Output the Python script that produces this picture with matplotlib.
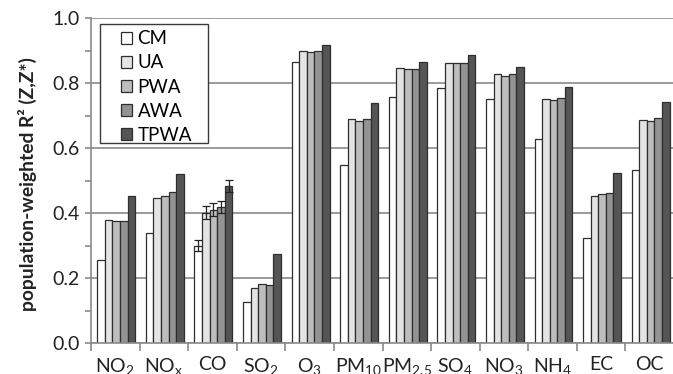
import matplotlib
matplotlib.use("Agg")
import matplotlib.pyplot as plt
from matplotlib.patches import Rectangle
import numpy as np

plt.rcParams['font.family'] = ['Lato', 'DejaVu Sans']
plt.rcParams['mathtext.default'] = 'regular'

categories = ['NO$_2$', 'NO$_x$', 'CO', 'SO$_2$', 'O$_3$', 'PM$_{10}$', 'PM$_{2.5}$',
              'SO$_4$', 'NO$_3$', 'NH$_4$', 'EC', 'OC']
series_names = ['CM', 'UA', 'PWA', 'AWA', 'TPWA']
cm   = [0.256, 0.338, 0.300, 0.127, 0.866, 0.550, 0.757, 0.785, 0.752, 0.628, 0.323, 0.533]
ua   = [0.379, 0.447, 0.402, 0.170, 0.899, 0.691, 0.847, 0.864, 0.828, 0.753, 0.452, 0.688]
pwa  = [0.376, 0.453, 0.411, 0.181, 0.897, 0.684, 0.845, 0.863, 0.823, 0.749, 0.458, 0.683]
awa  = [0.377, 0.467, 0.420, 0.178, 0.899, 0.689, 0.844, 0.864, 0.828, 0.756, 0.461, 0.693]
tpwa = [0.452, 0.522, 0.484, 0.274, 0.919, 0.740, 0.867, 0.886, 0.849, 0.790, 0.523, 0.743]
co_err = [0.017, 0.020, 0.020, 0.018, 0.017]
co_index = 2

values = [cm, ua, pwa, awa, tpwa]
colors = ['#ffffff', '#e4e4e4', '#bdbdbd', '#939393', '#555555']

fig = plt.figure(figsize=(6.73, 3.74), dpi=100)
ax = fig.add_axes([91/673, 30.7/374, 583/673, 325/374])

n = len(categories)
x = np.arange(n)
w = 0.156
offsets = (np.arange(5) - 2) * w
for i, (name, vals, col) in enumerate(zip(series_names, values, colors)):
    ax.bar(x + offsets[i] + 0.02, vals, width=w, color=col, edgecolor='#2e2e2e',
           linewidth=0.9, label=name, zorder=2)
    ax.errorbar(co_index + offsets[i] + 0.02, vals[co_index], yerr=co_err[i],
                fmt='none', ecolor='#222222', elinewidth=0.9, capsize=3, capthick=0.9, zorder=3)

ax.set_xlim(-0.5, n - 0.5)
ax.set_ylim(0, 1.0)
ax.set_yticks(np.arange(0, 1.01, 0.2))
ax.set_yticklabels([f'{v:.1f}' for v in np.arange(0, 1.01, 0.2)])
ax.set_yticks(np.arange(0.1, 1.0, 0.2), minor=True)
ax.yaxis.grid(True, which='major', color='#8a8a8a', linewidth=1.2)
ax.set_axisbelow(True)

ax.set_xticks(np.arange(-0.5, n, 1.0))
ax.set_xticklabels([])
ax.set_xticks(x, minor=True)
ax.set_xticklabels(categories, minor=True)
ax.tick_params(axis='x', which='major', length=6, color='#8a8a8a', width=1.2, direction='out')
ax.tick_params(axis='x', which='minor', length=0, pad=9.5, labelsize=14, labelcolor='#222222')
ax.tick_params(axis='y', which='both', length=4, color='#8a8a8a', width=1.2, direction='out',
               pad=4, labelsize=14, labelcolor='#222222')

for s in ['top', 'right']:
    ax.spines[s].set_visible(False)
for s in ['left', 'bottom']:
    ax.spines[s].set_color('#8a8a8a')
    ax.spines[s].set_linewidth(1.2)

ylab = ax.set_ylabel('population-weighted R² (Z,Z*)', fontsize=12.0, fontweight='bold',
                     color='#222222')
# fit the label length to ~253 px
fig.canvas.draw()
h = ylab.get_window_extent().height
ylab.set_fontsize(12.0 * 253.0 / h)
ax.yaxis.set_label_coords((37.5 - 91) / 583, 0.49)

# legend frame (wider horizontal padding than matplotlib's uniform borderpad)
frame = Rectangle((0.0154, 0.616), 0.1853, 0.366, transform=ax.transAxes,
                  facecolor='white', edgecolor='#3a3a3a', linewidth=1.0, zorder=4)
ax.add_patch(frame)
leg = ax.legend(loc='upper left', bbox_to_anchor=(0.051, 0.963), fontsize=13.5,
                handlelength=0.6, handleheight=0.6, handletextpad=0.3,
                labelspacing=0.38, borderpad=0.0, frameon=False, borderaxespad=0)
leg.set_zorder(5)

fig.savefig('out.png', dpi=100)
